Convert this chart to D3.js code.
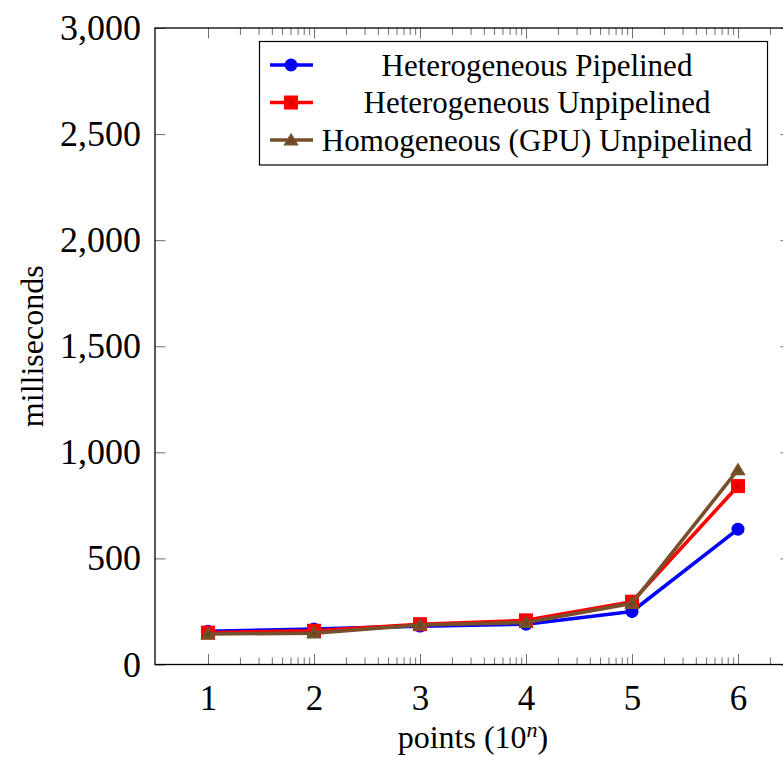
<!DOCTYPE html>
<html>
<head>
<meta charset="utf-8">
<script src="https://cdn.jsdelivr.net/npm/d3@7"></script>
<style>
  html, body { margin: 0; padding: 0; background: #fff; }
  svg { display: block; }
  text { font-family: "Liberation Serif", "Times New Roman", serif; fill: #000; }
</style>
</head>
<body>
<svg id="chart" width="783" height="757"></svg>
<script>
// Exponent n of the point count (10^n)
const exponents = [1, 2, 3, 4, 5, 6];

// Runtime in milliseconds per configuration
const pipelined   = [157, 167, 181, 190, 250, 638];
const unpipelined = [150, 159, 190, 208, 296, 841];
const homogeneous = [144, 148, 186, 198, 288, 918];

const seriesNames  = ["Heterogeneous Pipelined", "Heterogeneous Unpipelined", "Homogeneous (GPU) Unpipelined"];
const seriesColors = ["#0000ff", "#ff0000", "#774f2a"];
const seriesMarks  = ["circle", "square", "triangle"];
const seriesValues = [pipelined, unpipelined, homogeneous];

const yTicks = [0, 500, 1000, 1500, 2000, 2500, 3000];

const svg = d3.select("#chart");
const plot = { left: 155, right: 791, top: 28, bottom: 664.5 };

const x = d3.scaleLinear().domain([0.5, 6.5]).range([plot.left, plot.right]);
const y = d3.scaleLinear().domain([0, 3000]).range([plot.bottom, plot.top]);

// Log-style minor ticks between integer exponents
const minorTicks = [];
exponents.forEach(n => {
  for (let k = 2; k <= 9; k++) {
    const v = n + Math.log10(k);
    if (v < 6.5) minorTicks.push(v);
  }
});

const fmt = d3.format(",");

const frame = svg.append("g");
const tickStyle = sel => sel.attr("stroke", "#6e6e6e").attr("stroke-width", 1);

// Bottom axis
const xAxisB = svg.append("g").attr("transform", `translate(0,${plot.bottom})`)
  .call(d3.axisBottom(x).tickValues(exponents).tickSize(-10.5).tickPadding(21).tickFormat(d3.format("d")));
xAxisB.select(".domain").remove();
xAxisB.selectAll(".tick line").call(tickStyle);
xAxisB.selectAll(".tick text").attr("font-size", 35).attr("dy", "0.71em");

const xMinorB = svg.append("g").attr("transform", `translate(0,${plot.bottom})`)
  .call(d3.axisBottom(x).tickValues(minorTicks).tickSize(-7).tickFormat(""));
xMinorB.select(".domain").remove();
xMinorB.selectAll(".tick line").call(tickStyle);

// Top axis (mirrored ticks)
const xAxisT = svg.append("g").attr("transform", `translate(0,${plot.top})`)
  .call(d3.axisTop(x).tickValues(exponents).tickSize(-10.5).tickFormat(""));
xAxisT.select(".domain").remove();
xAxisT.selectAll(".tick line").call(tickStyle);
const xMinorT = svg.append("g").attr("transform", `translate(0,${plot.top})`)
  .call(d3.axisTop(x).tickValues(minorTicks).tickSize(-7).tickFormat(""));
xMinorT.select(".domain").remove();
xMinorT.selectAll(".tick line").call(tickStyle);

// Left axis
const yAxisL = svg.append("g").attr("transform", `translate(${plot.left},0)`)
  .call(d3.axisLeft(y).tickValues(yTicks).tickSize(-10.5).tickPadding(14).tickFormat(fmt));
yAxisL.select(".domain").remove();
yAxisL.selectAll(".tick line").call(tickStyle);
yAxisL.selectAll(".tick text").attr("font-size", 36);

// Right axis (mirrored ticks)
const yAxisR = svg.append("g").attr("transform", `translate(${plot.right},0)`)
  .call(d3.axisRight(y).tickValues(yTicks).tickSize(-10.5).tickFormat(""));
yAxisR.select(".domain").remove();
yAxisR.selectAll(".tick line").call(tickStyle);

frame.append("rect")
  .attr("x", plot.left).attr("y", plot.top)
  .attr("width", plot.right - plot.left).attr("height", plot.bottom - plot.top)
  .attr("fill", "none").attr("stroke", "#000").attr("stroke-width", 1.3);
frame.raise();

// Marker path generators
function markPath(type, s) {
  if (type === "circle") return d3.symbol(d3.symbolCircle, Math.PI * s * s)();
  if (type === "square") return d3.symbol(d3.symbolSquare, (2 * s) * (2 * s))();
  const h = s * 1.75;
  return `M0,${-h * 0.6}L${s * 1.1},${h * 0.45}L${-s * 1.1},${h * 0.45}Z`;
}
const markSize = { circle: 6.5, square: 7, triangle: 7 };

function drawMark(g, type, color, cx, cy) {
  const m = g.append("g").attr("transform", `translate(${cx},${cy})`);
  m.append("path").attr("d", markPath(type, markSize[type])).attr("fill", color);
  m.append("path").attr("d", markPath(type, markSize[type] * 0.4))
    .attr("fill", d3.color(color).darker(0.6)).attr("opacity", 0.6);
}

// Series lines and markers
const line = d3.line().x((d, i) => x(exponents[i])).y(d => y(d));
const series = svg.append("g");
seriesValues.forEach((vals, si) => {
  const g = series.append("g");
  g.append("path").datum(vals).attr("d", line)
    .attr("fill", "none").attr("stroke", seriesColors[si])
    .attr("stroke-width", 3.6).attr("stroke-linejoin", "round");
  vals.forEach((v, i) => drawMark(g, seriesMarks[si], seriesColors[si], x(exponents[i]), y(v)));
});

// Legend
const legend = svg.append("g");
legend.append("rect").attr("x", 259.5).attr("y", 41.5).attr("width", 508).attr("height", 123.5)
  .attr("fill", "#fff").attr("stroke", "#000").attr("stroke-width", 1.2);
seriesNames.forEach((name, si) => {
  const cy = 65 + si * 37.5;
  legend.append("line").attr("x1", 270).attr("x2", 313).attr("y1", cy).attr("y2", cy)
    .attr("stroke", seriesColors[si]).attr("stroke-width", 3.6);
  drawMark(legend, seriesMarks[si], seriesColors[si], 291, cy);
  legend.append("text").attr("x", 537).attr("y", cy).attr("text-anchor", "middle")
    .attr("dy", "0.35em").attr("font-size", 31).text(name);
});

// Axis titles
svg.append("text").attr("transform", `translate(32,${(plot.top + plot.bottom) / 2}) rotate(-90)`)
  .attr("text-anchor", "middle").attr("dy", "0.35em").attr("font-size", 32).text("milliseconds");

const xt = svg.append("text").attr("x", 473).attr("y", 748)
  .attr("text-anchor", "middle").attr("font-size", 32);
xt.append("tspan").text("points (10");
xt.append("tspan").attr("font-style", "italic").attr("font-size", 22).attr("baseline-shift", "11").text("n");
xt.append("tspan").text(")");
</script>
</body>
</html>
